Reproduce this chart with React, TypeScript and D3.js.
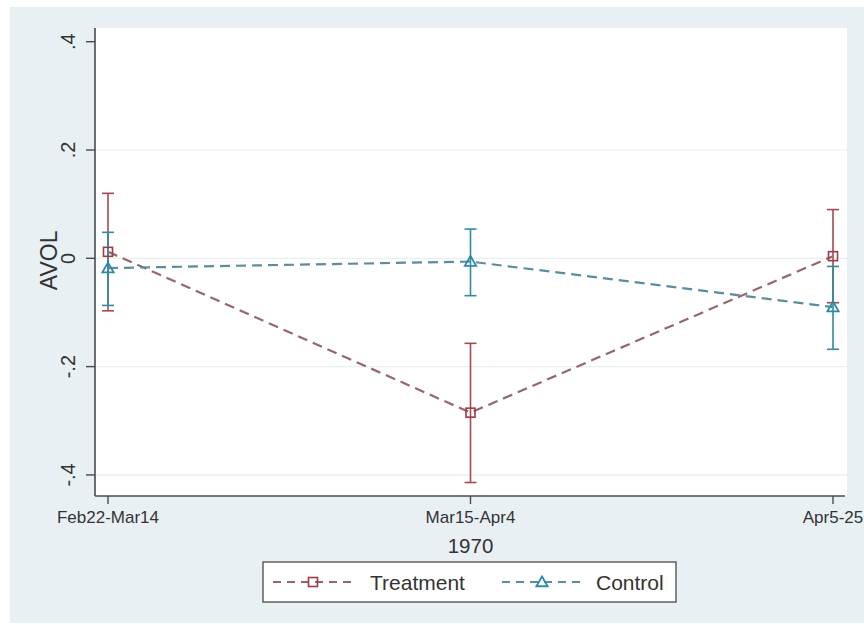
import React from "react";
import * as d3 from "d3";

const categories = ["Feb22-Mar14", "Mar15-Apr4", "Apr5-25"];
const treatmentMean = [0.012, -0.285, 0.004];
const treatmentLo = [-0.097, -0.414, -0.082];
const treatmentHi = [0.12, -0.157, 0.09];
const controlMean = [-0.018, -0.006, -0.09];
const controlLo = [-0.087, -0.069, -0.168];
const controlHi = [0.048, 0.054, -0.015];
const yTicks = [-0.4, -0.2, 0, 0.2, 0.4];
const yTickLabels = ["-.4", "-.2", "0", ".2", ".4"];
const gridTicks = [-0.4, -0.2, 0, 0.2];

const W = 864;
const H = 625;
const plot = { left: 95, right: 847, top: 28, bottom: 496 };

const FONT = "'Liberation Sans', Arial, sans-serif";

export default function App() {
  const x = d3
    .scalePoint<string>()
    .domain(categories)
    .range([108, 833]);
  const y = d3
    .scaleLinear()
    .domain([-0.4389, 0.4253])
    .range([plot.bottom, plot.top]);

  const line = d3
    .line<number>()
    .x((_, i) => x(categories[i]) as number)
    .y((d) => y(d));

  const series = [
    {
      name: "Treatment",
      mean: treatmentMean,
      lo: treatmentLo,
      hi: treatmentHi,
      lineColor: "#95676d",
      barColor: "#a34a53",
      markerColor: "#9a3d47",
      marker: "square",
    },
    {
      name: "Control",
      mean: controlMean,
      lo: controlLo,
      hi: controlHi,
      lineColor: "#5c8c9d",
      barColor: "#2f8aa4",
      markerColor: "#2a8ca8",
      marker: "triangle",
    },
  ];

  const drawMarker = (kind: string, cx: number, cy: number, color: string, key: string) => {
    if (kind === "square") {
      return (
        <rect key={key} x={cx - 4.5} y={cy - 4.5} width={9} height={9} fill="none" stroke={color} strokeWidth={1.6} />
      );
    }
    const tri = d3.symbol().type(d3.symbolTriangle).size(55)();
    return (
      <path key={key} d={tri as string} transform={`translate(${cx},${cy + 1})`} fill="none" stroke={color} strokeWidth={1.8} />
    );
  };

  return (
    <svg width={W} height={H} style={{ display: "block", position: "absolute", left: 0, top: 0 }}>
      <rect x={0} y={0} width={W} height={H} fill="#ffffff" />
      <rect x={10} y={7} width={W - 10} height={616} fill="#e9f0f3" />
      <rect
        x={plot.left}
        y={plot.top}
        width={plot.right - plot.left}
        height={plot.bottom - plot.top}
        fill="#ffffff"
      />
      {gridTicks.map((t) => (
        <line key={t} x1={plot.left} x2={plot.right} y1={y(t)} y2={y(t)} stroke="#e8eef1" strokeWidth={1.2} />
      ))}
      {/* axes */}
      <line x1={plot.left} x2={plot.left} y1={plot.top} y2={plot.bottom} stroke="#4a4a4a" strokeWidth={1.6} />
      <line x1={plot.left} x2={plot.right - 2} y1={plot.bottom} y2={plot.bottom} stroke="#4a4a4a" strokeWidth={1.6} />
      {yTicks.map((t, i) => (
        <g key={t}>
          <line x1={plot.left - 9} x2={plot.left} y1={y(t)} y2={y(t)} stroke="#4a4a4a" strokeWidth={1.4} />
          <text
            transform={`translate(75,${y(t)}) rotate(-90)`}
            textAnchor="middle"
            fontFamily={FONT}
            fontSize={20}
            fill="#333"
          >
            {yTickLabels[i]}
          </text>
        </g>
      ))}
      <text transform={`translate(57,${y(0) + 2}) rotate(-90)`} textAnchor="middle" fontFamily={FONT} fontSize={23} fill="#333">
        AVOL
      </text>
      {categories.map((c) => (
        <g key={c}>
          <line x1={x(c)} x2={x(c)} y1={plot.bottom} y2={plot.bottom + 8} stroke="#4a4a4a" strokeWidth={1.4} />
          <text x={x(c)} y={523} textAnchor="middle" fontFamily={FONT} fontSize={17} fill="#333">
            {c}
          </text>
        </g>
      ))}
      <text x={x(categories[1])} y={553} textAnchor="middle" fontFamily={FONT} fontSize={20.5} fill="#333">
        1970
      </text>

      {/* series */}
      {series.map((s) => (
        <g key={s.name}>
          {s.mean.map((m, i) => {
            const cx = x(categories[i]) as number;
            return (
              <g key={i}>
                <line x1={cx} x2={cx} y1={y(s.lo[i])} y2={y(s.hi[i])} stroke={s.barColor} strokeWidth={1.6} />
                <line x1={cx - 6} x2={cx + 6} y1={y(s.lo[i])} y2={y(s.lo[i])} stroke={s.barColor} strokeWidth={1.6} />
                <line x1={cx - 6} x2={cx + 6} y1={y(s.hi[i])} y2={y(s.hi[i])} stroke={s.barColor} strokeWidth={1.6} />
              </g>
            );
          })}
        </g>
      ))}
      {series.map((s) => (
        <g key={s.name + "l"}>
          <path d={line(s.mean) as string} fill="none" stroke={s.lineColor} strokeWidth={2.2} strokeDasharray="10,6" />
          {s.mean.map((m, i) => drawMarker(s.marker, x(categories[i]) as number, y(m), s.markerColor, s.name + i))}
        </g>
      ))}

      {/* legend */}
      <rect x={263} y={562} width={413} height={40} fill="#ffffff" stroke="#555" strokeWidth={1.4} />
      {series.map((s, k) => {
        const x0 = k === 0 ? 273 : 502;
        const cy = 582;
        return (
          <g key={s.name + "leg"}>
            <line x1={x0} x2={x0 + 83} y1={cy} y2={cy} stroke={s.lineColor} strokeWidth={2} strokeDasharray="8,6" />
            {drawMarker(s.marker, x0 + 40, cy, s.markerColor, s.name + "lm")}
            <text x={x0 + (k === 0 ? 97 : 94)} y={590} fontFamily={FONT} fontSize={21} fill="#333">
              {s.name}
            </text>
          </g>
        );
      })}
    </svg>
  );
}
